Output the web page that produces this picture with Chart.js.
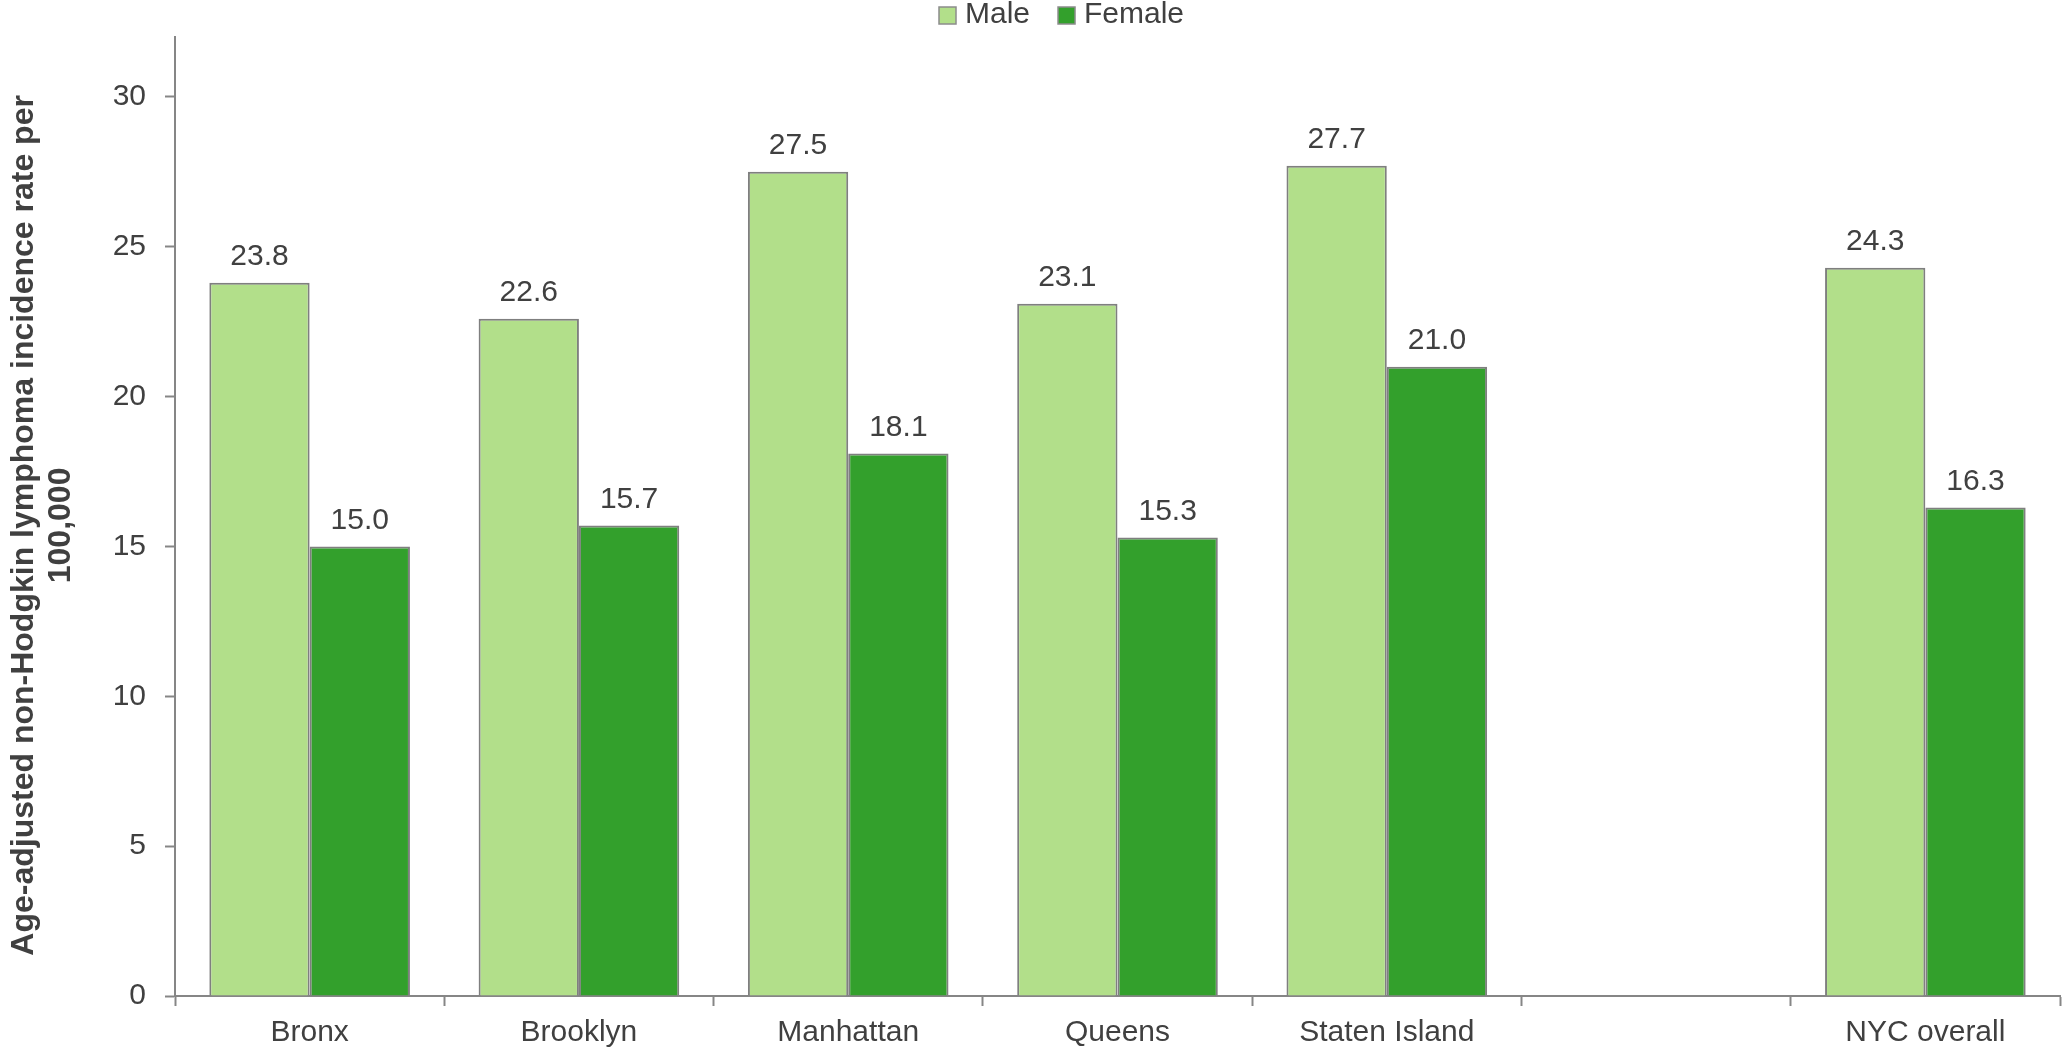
<!DOCTYPE html>
<html>
<head>
<meta charset="utf-8">
<script src="https://cdn.jsdelivr.net/npm/chart.js@4/dist/chart.umd.min.js"></script>
<style>
  html, body { margin: 0; padding: 0; background: #fff; }
  #wrap { width: 2068px; height: 1051px; }
</style>
</head>
<body>
<div id="wrap"><canvas id="nhlChart" width="2068" height="1051"></canvas></div>
<script>
var boroughs = ["Bronx", "Brooklyn", "Manhattan", "Queens", "Staten Island", "", "NYC overall"];
var maleRates = [23.8, 22.6, 27.5, 23.1, 27.7, null, 24.3];
var femaleRates = [15.0, 15.7, 18.1, 15.3, 21.0, null, 16.3];
var yTicks = [0, 5, 10, 15, 20, 25, 30];

var textColor = "#404040";
var axisColor = "#868686";
var fontFamily = "'Liberation Sans', Arial, sans-serif";

// draws the value above each bar
var valueLabels = {
  id: "valueLabels",
  afterDatasetsDraw: function (chart) {
    var ctx = chart.ctx;
    ctx.save();
    ctx.font = "30px " + fontFamily;
    ctx.fillStyle = textColor;
    ctx.textAlign = "center";
    ctx.textBaseline = "bottom";
    chart.data.datasets.forEach(function (ds, i) {
      var meta = chart.getDatasetMeta(i);
      meta.data.forEach(function (bar, j) {
        var v = ds.data[j];
        if (v === null) return;
        ctx.fillText(v.toFixed(1), bar.x, bar.y - 11);
      });
    });
    ctx.restore();
  }
};

// small legend on top, box close to the text like the original
var topLegend = {
  id: "topLegend",
  afterDraw: function (chart) {
    var ctx = chart.ctx;
    ctx.save();
    ctx.font = "30px " + fontFamily;
    ctx.textBaseline = "middle";
    var x = 939;
    var y = 15;
    chart.data.datasets.forEach(function (ds) {
      ctx.fillStyle = ds.backgroundColor;
      ctx.fillRect(x, y - 8, 17, 17);
      ctx.strokeStyle = "#8c8c8c";
      ctx.lineWidth = 1.5;
      ctx.strokeRect(x, y - 8, 17, 17);
      ctx.fillStyle = textColor;
      ctx.fillText(ds.label, x + 26, y);
      x += 26 + ctx.measureText(ds.label).width + 28;
    });
    ctx.restore();
  }
};

new Chart(document.getElementById("nhlChart").getContext("2d"), {
  type: "bar",
  data: {
    labels: boroughs,
    datasets: [
      {
        label: "Male",
        data: maleRates,
        backgroundColor: "#b2df8a",
        borderColor: "#7f7f7f",
        borderWidth: 2,
        categoryPercentage: 0.745,
        barPercentage: 1.0
      },
      {
        label: "Female",
        data: femaleRates,
        backgroundColor: "#33a02c",
        borderColor: "#7f7f7f",
        borderWidth: 2,
        categoryPercentage: 0.745,
        barPercentage: 1.0
      }
    ]
  },
  options: {
    responsive: false,
    animation: false,
    layout: { padding: { left: 0, right: 8, top: 37, bottom: 0 } },
    plugins: {
      tooltip: { enabled: false },
      legend: { display: false }
    },
    scales: {
      x: {
        grid: {
          drawOnChartArea: false,
          drawTicks: true,
          tickLength: 10,
          tickColor: axisColor,
          tickWidth: 2,
          offset: true
        },
        border: { color: axisColor, width: 2 },
        ticks: {
          color: textColor,
          font: { family: fontFamily, size: 30 },
          padding: 9,
          maxRotation: 0,
          autoSkip: false
        },
        afterFit: function (scale) { scale.height = 55; }
      },
      y: {
        min: 0,
        max: 32,
        ticks: {
          stepSize: 5,
          color: textColor,
          font: { family: fontFamily, size: 30 },
          padding: 19
        },
        afterBuildTicks: function (scale) {
          scale.ticks = yTicks.map(function (v) { return { value: v }; });
        },
        grid: {
          drawOnChartArea: false,
          drawTicks: true,
          tickLength: 10,
          tickColor: axisColor,
          tickWidth: 2
        },
        border: { color: axisColor, width: 2 },
        title: {
          display: true,
          // trailing spaces nudge the rotated title a little lower, as in the original
          text: ["Age-adjusted non-Hodgkin lymphoma incidence rate per  ", "100,000  "],
          color: textColor,
          font: { family: fontFamily, size: 32, weight: "bold", lineHeight: 1.15 },
          padding: { top: 6, bottom: 4 }
        },
        afterFit: function (scale) { scale.width = 175; }
      }
    }
  },
  plugins: [valueLabels, topLegend]
});
</script>
</body>
</html>
